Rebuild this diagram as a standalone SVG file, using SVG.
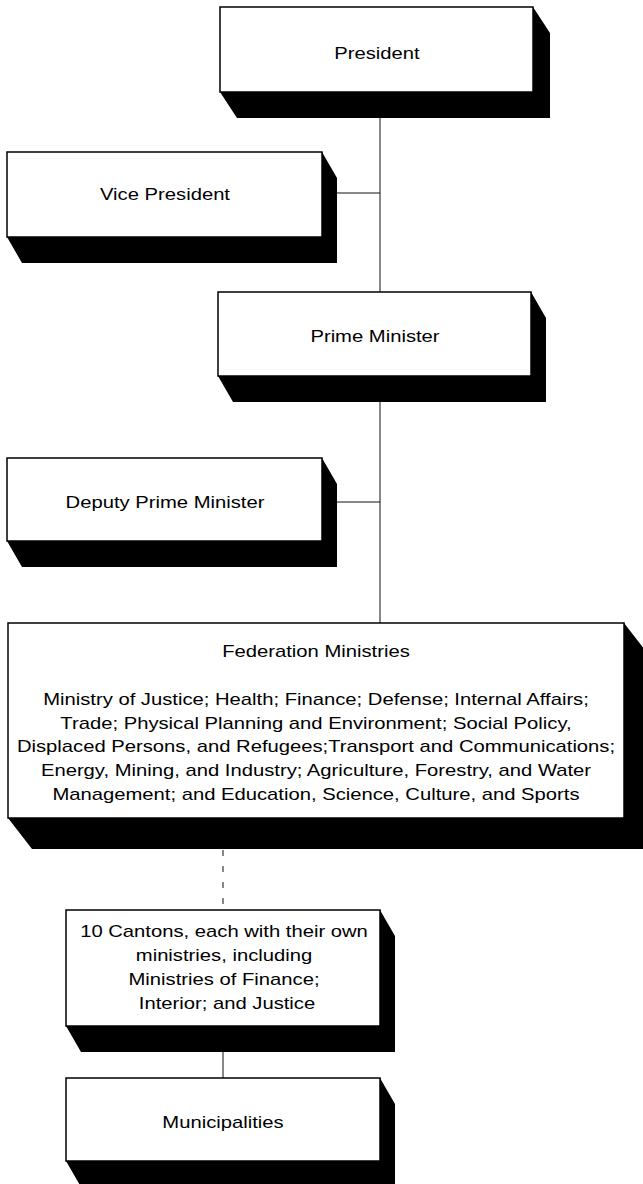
<svg xmlns="http://www.w3.org/2000/svg" width="643" height="1184" viewBox="0 0 643 1184">
<style>
.box{fill:#fff;stroke:#000;stroke-width:1.5}
.sh{fill:#000}
.ln{stroke:#111;stroke-width:1;fill:none}
.dash{stroke:#111;stroke-width:1;fill:none;stroke-dasharray:6 10}
text{font-family:"Liberation Sans",Arial,sans-serif;font-size:17px;fill:#000;text-anchor:middle}
</style>
<rect width="643" height="1184" fill="#fff"/>
<g id="connectors">
<line class="ln" x1="380" y1="92" x2="380" y2="623"/>
<line class="ln" x1="322" y1="193" x2="380" y2="193"/>
<line class="ln" x1="322" y1="502" x2="380" y2="502"/>
<line class="dash" x1="223" y1="850" x2="223" y2="910"/>
<line class="ln" x1="223" y1="1026" x2="223" y2="1078"/>
</g>
<g id="president">
<polygon class="sh" points="533,7 550,33 550,118 237,118 220,92 533,92"/>
<rect class="box" x="220" y="7" width="313" height="85"/>
<text transform="translate(377,59) scale(1.19,1)">President</text>
</g>
<g id="vice-president">
<polygon class="sh" points="322,152 337,178 337,263 22,263 7,237 322,237"/>
<rect class="box" x="7" y="152" width="315" height="85"/>
<text transform="translate(165,200) scale(1.19,1)">Vice President</text>
</g>
<g id="prime-minister">
<polygon class="sh" points="531,292 546,318 546,402 233,402 218,376 531,376"/>
<rect class="box" x="218" y="292" width="313" height="84"/>
<text transform="translate(375,342) scale(1.19,1)">Prime Minister</text>
</g>
<g id="deputy-prime-minister">
<polygon class="sh" points="322,458 337,484 337,567 22,567 7,541 322,541"/>
<rect class="box" x="7" y="458" width="315" height="83"/>
<text transform="translate(165,508) scale(1.19,1)">Deputy Prime Minister</text>
</g>
<g id="federation-ministries">
<polygon class="sh" points="624,623 648,654 648,849 32,849 8,818 624,818"/>
<rect class="box" x="8" y="623" width="616" height="195"/>
<text transform="translate(316,657) scale(1.19,1)">Federation Ministries</text>
<text transform="translate(316,705) scale(1.19,1)">Ministry of Justice; Health; Finance; Defense; Internal Affairs;</text>
<text transform="translate(316,729) scale(1.19,1)">Trade; Physical Planning and Environment; Social Policy,</text>
<text transform="translate(316,752) scale(1.19,1)">Displaced Persons, and Refugees;Transport and Communications;</text>
<text transform="translate(316,776) scale(1.19,1)">Energy, Mining, and Industry; Agriculture, Forestry, and Water</text>
<text transform="translate(316,800) scale(1.19,1)">Management; and Education, Science, Culture, and Sports</text>
</g>
<g id="cantons">
<polygon class="sh" points="380,910 395,936 395,1052 81,1052 66,1026 380,1026"/>
<rect class="box" x="66" y="910" width="314" height="116"/>
<text transform="translate(224,937) scale(1.19,1)">10 Cantons, each with their own</text>
<text transform="translate(224,961) scale(1.19,1)">ministries, including</text>
<text transform="translate(224,985) scale(1.19,1)">Ministries of Finance;</text>
<text transform="translate(227,1009) scale(1.19,1)">Interior; and Justice</text>
</g>
<g id="municipalities">
<polygon class="sh" points="380,1078 395,1104 395,1187 81,1187 66,1161 380,1161"/>
<rect class="box" x="66" y="1078" width="314" height="83"/>
<text transform="translate(223,1128) scale(1.19,1)">Municipalities</text>
</g>
</svg>
